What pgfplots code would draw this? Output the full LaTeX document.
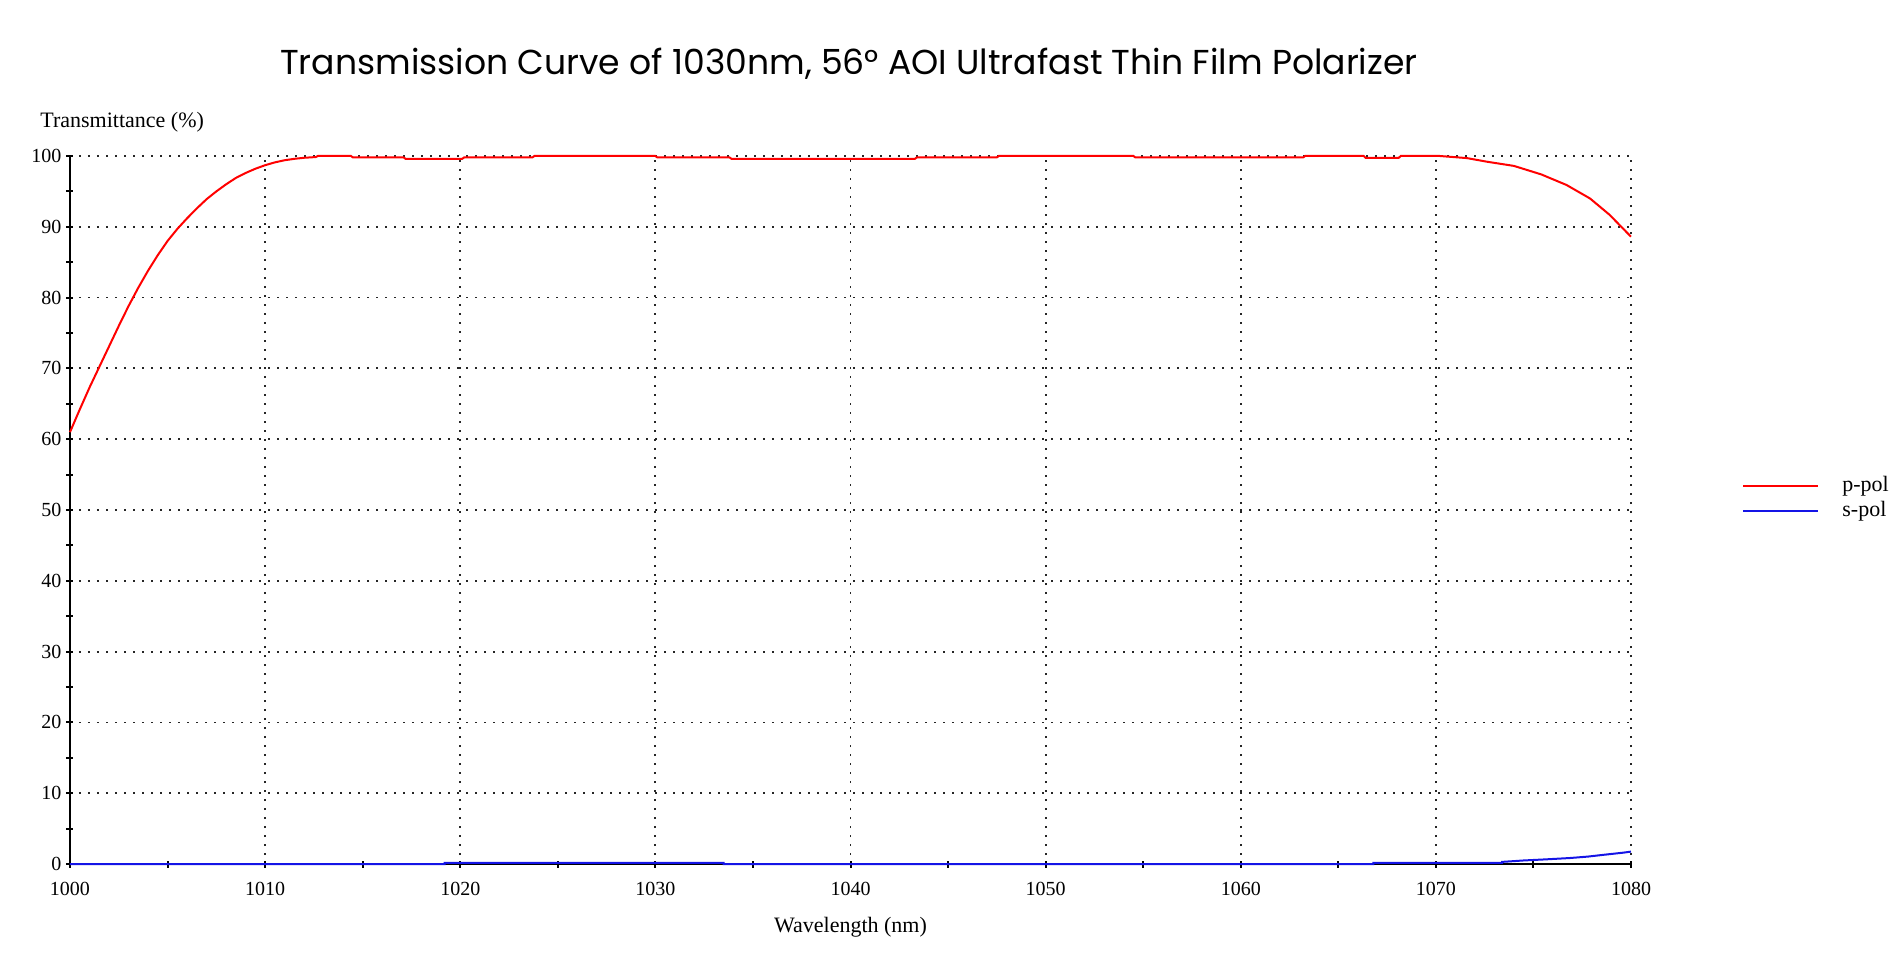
\documentclass[border=0pt]{standalone}
\usepackage{fontspec}
\setmainfont{Liberation Serif}
\newfontfamily\titlefont{Poppins}
\usepackage{pgfplots}
\pgfplotsset{compat=1.18}
\definecolor{ppol}{RGB}{255,0,0}
\definecolor{spol}{RGB}{20,20,230}

\begin{document}
\begin{tikzpicture}
\path[use as bounding box] (-35pt,-47.5pt) rectangle (915pt,432pt);
\begin{axis}[
    scale only axis,
    width=780.5pt, height=354pt,
    xmin=1000, xmax=1080, ymin=0, ymax=100,
    xtick={1000,1010,...,1080},
    ytick={0,10,...,100},
    minor x tick num=1, minor y tick num=1,
    axis x line=bottom, axis y line=left,
    axis line style={-, line width=1pt, black},
    tick align=center,
    major tick length=3.5pt, minor tick length=3.5pt,
    every tick/.style={black, line width=1pt},
    grid=major,
    major grid style={black!85, line width=0.9pt, dash pattern=on 0.9pt off 3.6pt},
    clip=false,
    /pgf/number format/assume math mode=true,
    /pgf/number format/1000 sep={},
    tick label style={font=\fontsize{10}{12}\selectfont},
    yticklabel style={xshift=1pt},
    xticklabel style={anchor=base, yshift=-14pt},
    title={\titlefont\fontsize{17.3}{20}\selectfont Transmission Curve of 1030nm, 56° AOI Ultrafast Thin Film Polarizer},
    title style={at={(rel axis cs:0.499,1)}, anchor=base, yshift=34.5pt, inner sep=0pt},
    xlabel={Wavelength (nm)},
    xlabel style={font=\fontsize{11}{13}\selectfont, at={(rel axis cs:0.5,0)}, anchor=base, yshift=-34pt, inner sep=0pt},
    ylabel={Transmittance (\%)},
    ylabel style={font=\fontsize{11}{13}\selectfont, rotate=-90, at={(rel axis cs:0,1)}, anchor=base west, xshift=-15pt, yshift=14pt, inner sep=0pt},
    legend style={at={(rel axis cs:1.0711,0.548)}, anchor=north west, draw=none, fill=none,
        font=\fontsize{11}{13}\selectfont, inner sep=0pt, row sep=3.5pt,
        nodes={inner sep=0pt}},
    legend cell align=left,
    legend image code/.code={\draw[#1] (0pt,0pt) -- (37.5pt,0pt); \path (49pt,0pt);},
]
\addplot[ppol, line width=1pt] coordinates {
    (1000,61.0) (1000.5,64.2) (1001,67.3) (1001.5,70.2) (1002,73.1) (1002.5,76.0)
    (1003,78.8) (1003.5,81.4) (1004,83.8) (1004.5,86.0) (1005,88.0) (1005.5,89.7)
    (1006,91.2) (1006.5,92.6) (1007,93.9) (1007.5,95.0) (1008,96.0) (1008.5,96.9)
    (1009,97.6) (1009.5,98.2) (1010,98.7) (1010.5,99.1) (1011,99.4) (1011.5,99.6)
    (1012,99.75) (1012.6,99.85) (1012.7,100) (1014.4,100) (1014.5,99.8) (1017.1,99.8)
    (1017.2,99.6) (1020.1,99.6) (1020.2,99.8) (1023.7,99.8) (1023.8,100) (1030.0,100)
    (1030.1,99.8) (1033.8,99.8) (1033.9,99.6) (1043.3,99.6) (1043.4,99.8) (1047.5,99.8)
    (1047.6,100) (1054.5,100) (1054.6,99.8) (1063.2,99.8) (1063.3,100) (1066.3,100)
    (1066.4,99.75) (1068.1,99.75) (1068.2,100) (1070.2,100) (1071.6,99.7) (1072.6,99.2)
    (1074.0,98.6) (1075.4,97.4) (1076.7,95.9) (1077.9,94.0) (1078.9,91.7) (1080,88.6)
};
\addlegendentry{p-pol}
\addplot[spol, line width=1pt] coordinates {
    (1000,0) (1019.2,0) (1019.2,0.15) (1033.5,0.15) (1033.5,0) (1066.8,0)
    (1066.8,0.15) (1073.4,0.15) (1073.4,0.3) (1074.5,0.5) (1075.6,0.65) (1076.9,0.85)
    (1077.8,1.05) (1078.6,1.3) (1079.1,1.45) (1079.6,1.6) (1080,1.75)
};
\addlegendentry{s-pol}
\end{axis}
\end{tikzpicture}
\end{document}
